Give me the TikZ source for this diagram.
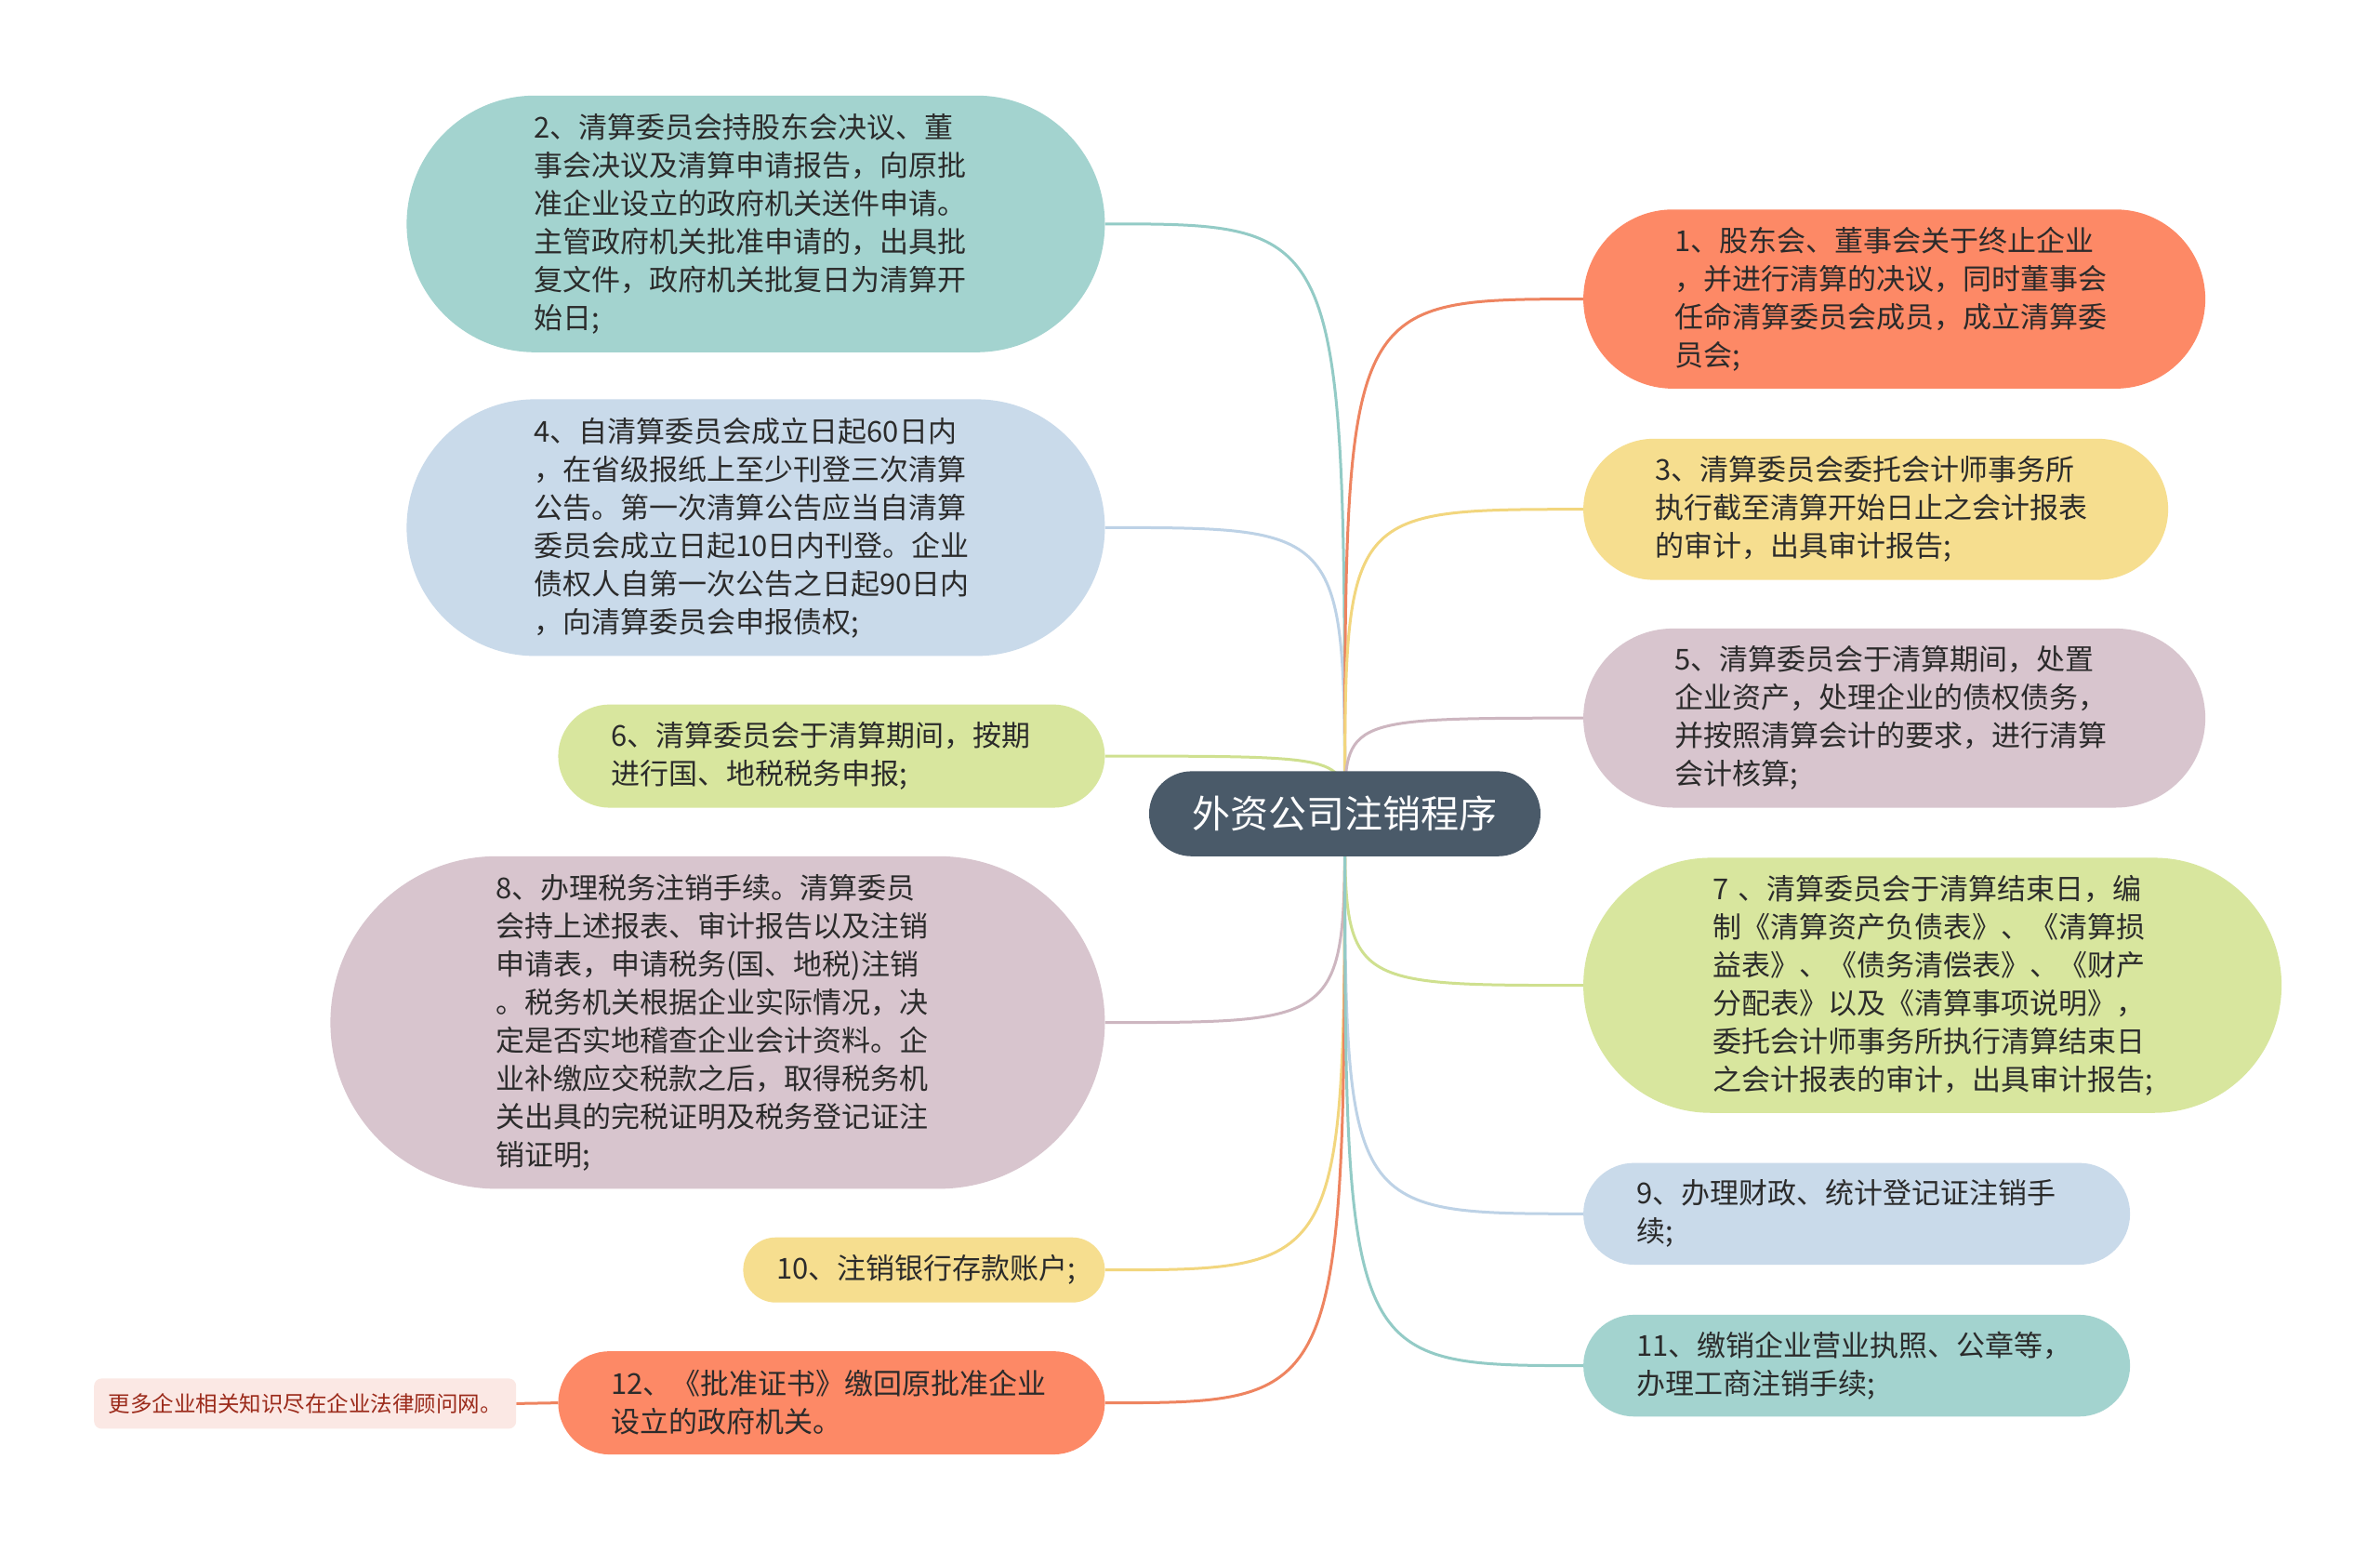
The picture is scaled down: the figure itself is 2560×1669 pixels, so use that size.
\documentclass[tikz,border=0pt]{standalone}
\usepackage{fontspec}
\newfontfamily\cjk{Noto Sans CJK SC}
\pgfdeclarelayer{bg}
\pgfsetlayers{bg,main}
\definecolor{cTeal}{HTML}{A3D3CF}
\definecolor{cBlue}{HTML}{C9DAEA}
\definecolor{cGreen}{HTML}{D8E69E}
\definecolor{cMauve}{HTML}{D8C5CE}
\definecolor{cYellow}{HTML}{F6DE8F}
\definecolor{cCoral}{HTML}{FD8966}
\definecolor{cCenter}{HTML}{4A5A69}
\definecolor{cNote}{HTML}{FBE8E4}
\definecolor{cNoteText}{HTML}{9B2A1A}
\definecolor{cText}{HTML}{2B2B2B}
\definecolor{lTeal}{HTML}{93CBC6}
\definecolor{lBlue}{HTML}{BDD2E6}
\definecolor{lGreen}{HTML}{CFE08F}
\definecolor{lMauve}{HTML}{CDB6C0}
\definecolor{lYellow}{HTML}{F2D67E}
\definecolor{lCoral}{HTML}{EE8460}
\tikzset{
  box/.style={font=\cjk\fontsize{31pt}{41pt}\selectfont, text=cText, align=left, inner ysep=0pt},
  lbox/.style={box, anchor=east},
  rbox/.style={box, anchor=west},
  link/.style={line width=3pt},
}
\begin{document}
\begin{tikzpicture}[x=1pt,y=-1pt]
\useasboundingbox (0,0) rectangle (2560,1669);

% center
\node[fill=cCenter, text=white, font=\cjk\fontsize{41pt}{48pt}\selectfont, rounded corners=45.7pt, minimum width=421pt, minimum height=91.4pt, inner sep=0pt] (c) at (1446.5,875.1) {外资公司注销程序};

% left side
\node[lbox, fill=cTeal, rounded corners=138pt, minimum height=276pt, inner xsep=137pt, text width=477pt] (b2) at (1188.6,240.8)
{2、清算委员会持股东会决议、董\\事会决议及清算申请报告，向原批\\准企业设立的政府机关送件申请。\\主管政府机关批准申请的，出具批\\复文件，政府机关批复日为清算开\\始日;};

\node[lbox, fill=cBlue, rounded corners=138pt, minimum height=276pt, inner xsep=137pt, text width=477pt] (b4) at (1188.6,567.4)
{4、自清算委员会成立日起60日内\\，在省级报纸上至少刊登三次清算\\公告。第一次清算公告应当自清算\\委员会成立日起10日内刊登。企业\\债权人自第一次公告之日起90日内\\，向清算委员会申报债权;};

\node[lbox, fill=cGreen, rounded corners=55.5pt, minimum height=111pt, inner xsep=57pt, text width=474pt] (b6) at (1188.6,813.1)
{6、清算委员会于清算期间，按期\\进行国、地税税务申报;};

\node[lbox, fill=cMauve, rounded corners=178.8pt, minimum height=357.6pt, inner xsep=178pt, text width=477pt] (b8) at (1188.6,1099.6)
{8、办理税务注销手续。清算委员\\会持上述报表、审计报告以及注销\\申请表，申请税务(国、地税)注销\\。税务机关根据企业实际情况，决\\定是否实地稽查企业会计资料。企\\业补缴应交税款之后，取得税务机\\关出具的完税证明及税务登记证注\\销证明;};

\node[lbox, fill=cYellow, rounded corners=35pt, minimum height=70pt, inner xsep=36pt, text width=317pt] (b10) at (1188.6,1365.7)
{10、注销银行存款账户;};

\node[lbox, fill=cCoral, rounded corners=55.5pt, minimum height=111pt, inner xsep=57pt, text width=474pt] (b12) at (1188.6,1508.6)
{12、《批准证书》缴回原批准企业\\设立的政府机关。};

\node[fill=cNote, text=cNoteText, font=\cjk\fontsize{23.5pt}{28pt}\selectfont, rounded corners=8pt, minimum width=454pt, minimum height=54pt, inner sep=0pt] (note) at (328.2,1509.4)
{更多企业相关知识尽在企业法律顾问网。};

% right side
\node[rbox, fill=cCoral, rounded corners=96.3pt, minimum height=192.6pt, inner xsep=98pt, text width=473pt] (b1) at (1702.9,321.6)
{1、股东会、董事会关于终止企业\\，并进行清算的决议，同时董事会\\任命清算委员会成员，成立清算委\\员会;};

\node[rbox, fill=cYellow, rounded corners=75.9pt, minimum height=151.8pt, inner xsep=77pt, text width=475pt] (b3) at (1702.9,547.7)
{3、清算委员会委托会计师事务所\\执行截至清算开始日止之会计报表\\的审计，出具审计报告;};

\node[rbox, fill=cMauve, rounded corners=96.3pt, minimum height=192.6pt, inner xsep=98pt, text width=473pt] (b5) at (1702.9,772.2)
{5、清算委员会于清算期间，处置\\企业资产，处理企业的债权债务，\\并按照清算会计的要求，进行清算\\会计核算;};

\node[rbox, fill=cGreen, rounded corners=137pt, minimum height=274.3pt, inner xsep=139pt, text width=473pt] (b7) at (1702.9,1059.6)
{7 、清算委员会于清算结束日，编\\制《清算资产负债表》、《清算损\\益表》、《债务清偿表》、《财产\\分配表》以及《清算事项说明》，\\委托会计师事务所执行清算结束日\\之会计报表的审计，出具审计报告;};

\node[rbox, fill=cBlue, rounded corners=54.7pt, minimum height=109.4pt, inner xsep=57pt, text width=474pt] (b9) at (1702.9,1305.3)
{9、办理财政、统计登记证注销手\\续;};

\node[rbox, fill=cTeal, rounded corners=54.7pt, minimum height=109.4pt, inner xsep=57pt, text width=474pt] (b11) at (1702.9,1468.6)
{11、缴销企业营业执照、公章等，\\办理工商注销手续;};

% connectors
\begin{pgfonlayer}{bg}
\fill[white] (0,0) rectangle (2560,1669);
\draw[link, lTeal]   (c.center) .. controls (c.center |- b2.east) .. (b2.east);
\draw[link, lBlue]   (c.center) .. controls (c.center |- b4.east) .. (b4.east);
\draw[link, lGreen]  (c.center) .. controls (c.center |- b6.east) .. (b6.east);
\draw[link, lMauve]  (c.center) .. controls (c.center |- b8.east) .. (b8.east);
\draw[link, lYellow] (c.center) .. controls (c.center |- b10.east) .. (b10.east);
\draw[link, lCoral]  (c.center) .. controls (c.center |- b12.east) .. (b12.east);
\draw[link, lCoral]  (c.center) .. controls (c.center |- b1.west) .. (b1.west);
\draw[link, lYellow] (c.center) .. controls (c.center |- b3.west) .. (b3.west);
\draw[link, lMauve]  (c.center) .. controls (c.center |- b5.west) .. (b5.west);
\draw[link, lGreen]  (c.center) .. controls (c.center |- b7.west) .. (b7.west);
\draw[link, lBlue]   (c.center) .. controls (c.center |- b9.west) .. (b9.west);
\draw[link, lTeal]   (c.center) .. controls (c.center |- b11.west) .. (b11.west);
\draw[link, lCoral]  (b12.west) -- (note.east);
\end{pgfonlayer}
\end{tikzpicture}
\end{document}
